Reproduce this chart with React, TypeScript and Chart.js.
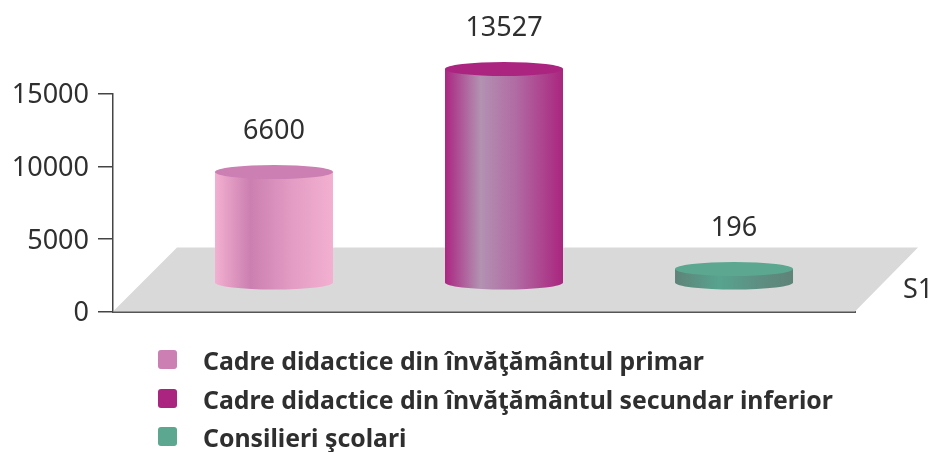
import React, { useEffect, useRef } from "react";
import { Chart, registerables } from "chart.js";

Chart.register(...registerables);

const categories = ["S1"];
const seriesNames = [
  "Cadre didactice din învăţământul primar",
  "Cadre didactice din învăţământul secundar inferior",
  "Consilieri şcolari",
];
// Printed value of each series
const printedValues = [6600, 13527, 196];
// Foot and top of each drawn cylinder, read against the picture's value axis
const cylinderFoot = [2000, 2000, 2000];
const cylinderTop = [9610, 16700, 2930];
const yTicks = [0, 5000, 10000, 15000];

const capColors = ["#cc7fb2", "#ab2580", "#5ba78f"];
const sideStops: [number, string][][] = [
  [[0, "#f3b0d0"], [0.3, "#cb7fb1"], [0.65, "#e39cc4"], [1, "#f3b0d0"]],
  [[0, "#ab2682"], [0.3, "#b292b2"], [0.6, "#b16ba3"], [1, "#a9267f"]],
  [[0, "#5f8379"], [0.38, "#57a48e"], [0.7, "#5d8f82"], [1, "#5f8378"]],
];

const FONT = '"Noto Sans"';
const TEXT = "#2f2f2f";
const DEPTH_X = 64;
const DEPTH_Y = 64;
const SHIFT_X = 20;
const RY = 7;

const scene = {
  id: "scene",
  afterLayout(chart: any) {
    // Digits sit about 2px high in this font; nudge the axis labels down.
    chart.scales.y.getLabelItems(chart.chartArea).forEach((item: any) => {
      item.textOffset += 2;
    });
  },
  beforeDatasetsDraw(chart: any) {
    const { ctx, chartArea: a } = chart;
    ctx.save();
    ctx.fillStyle = "#d9d9d9";
    ctx.beginPath();
    ctx.moveTo(a.left, a.bottom);
    ctx.lineTo(a.left + DEPTH_X, a.bottom - DEPTH_Y);
    ctx.lineTo(a.right + DEPTH_X - 1, a.bottom - DEPTH_Y);
    ctx.lineTo(a.right, a.bottom);
    ctx.closePath();
    ctx.fill();
    ctx.restore();
  },
  beforeDatasetDraw(chart: any, args: any) {
    const { ctx } = chart;
    const i = args.index;
    const bar = chart.getDatasetMeta(i).data[0];
    const cx = bar.x + SHIFT_X;
    const rx = bar.width / 2;
    const top = bar.y;
    const foot = bar.base;
    ctx.save();
    const g = ctx.createLinearGradient(cx - rx, 0, cx + rx, 0);
    sideStops[i].forEach(([p, c]) => g.addColorStop(p, c));
    ctx.fillStyle = g;
    ctx.beginPath();
    ctx.moveTo(cx - rx, top);
    ctx.lineTo(cx - rx, foot);
    ctx.ellipse(cx, foot, rx, RY, 0, Math.PI, 0, true);
    ctx.lineTo(cx + rx, top);
    ctx.closePath();
    ctx.fill();
    ctx.fillStyle = capColors[i];
    ctx.beginPath();
    ctx.ellipse(cx, top, rx, RY, 0, 0, Math.PI * 2);
    ctx.fill();
    ctx.fillStyle = TEXT;
    ctx.font = `27px ${FONT}`;
    ctx.textAlign = "center";
    ctx.textBaseline = "middle";
    ctx.fillText(String(printedValues[i]), cx, top - 41);
    ctx.restore();
    return false;
  },
  afterDraw(chart: any) {
    const { ctx, chartArea: a } = chart;
    ctx.save();
    ctx.fillStyle = TEXT;
    ctx.font = `27px ${FONT}`;
    ctx.textAlign = "left";
    ctx.textBaseline = "middle";
    ctx.fillText(categories[0], a.right + 48, a.bottom - 21);
    const rows = [370, 409, 447];
    seriesNames.forEach((name, i) => {
      ctx.fillStyle = capColors[i];
      ctx.beginPath();
      ctx.roundRect(158, rows[i] - 20, 19, 19, 3);
      ctx.fill();
      ctx.fillStyle = TEXT;
      ctx.font = `bold 24.8px ${FONT}`;
      ctx.textBaseline = "alphabetic";
      ctx.fillText(name, 203, rows[i]);
    });
    ctx.restore();
  },
};

export default function App() {
  const ref = useRef<HTMLCanvasElement>(null);
  useEffect(() => {
    const chart = new Chart(ref.current!, {
      type: "bar",
      data: {
        labels: categories,
        datasets: seriesNames.map((label, i) => ({
          label,
          data: [[cylinderFoot[i], cylinderTop[i]]],
          backgroundColor: capColors[i],
          clip: false,
        })) as any,
      },
      options: {
        responsive: false,
        animation: false,
        categoryPercentage: 0.93,
        barPercentage: 0.513,
        layout: { padding: { top: 93.7, bottom: 140.5, left: 0, right: 78 } },
        plugins: { legend: { display: false }, tooltip: { enabled: false } },
        scales: {
          x: {
            ticks: { display: false },
            grid: { display: false },
            border: { color: "#555555", width: 2 },
            afterFit: (s: any) => { s.height = 0; },
          },
          y: {
            min: 0,
            max: 15000,
            afterBuildTicks: (s: any) => { s.ticks = yTicks.map((value) => ({ value })); },
            ticks: {
              color: TEXT,
              font: { family: "Noto Sans", size: 27 },
              padding: 9,
              callback: (v: any) => String(v),
            },
            grid: { drawOnChartArea: false, tickLength: 15, color: "#444444", lineWidth: 1.5 },
            border: { color: "#444444", width: 1.5 },
            afterFit: (s: any) => { s.width = 113; },
          },
        },
      } as any,
      plugins: [scene],
    });
    return () => chart.destroy();
  }, []);
  return (
    <div style={{ position: "absolute", left: 0, top: 0, width: 933, height: 452, background: "#fff", overflow: "hidden" }}>
      <canvas ref={ref} width={933} height={452} style={{ display: "block" }} />
    </div>
  );
}
